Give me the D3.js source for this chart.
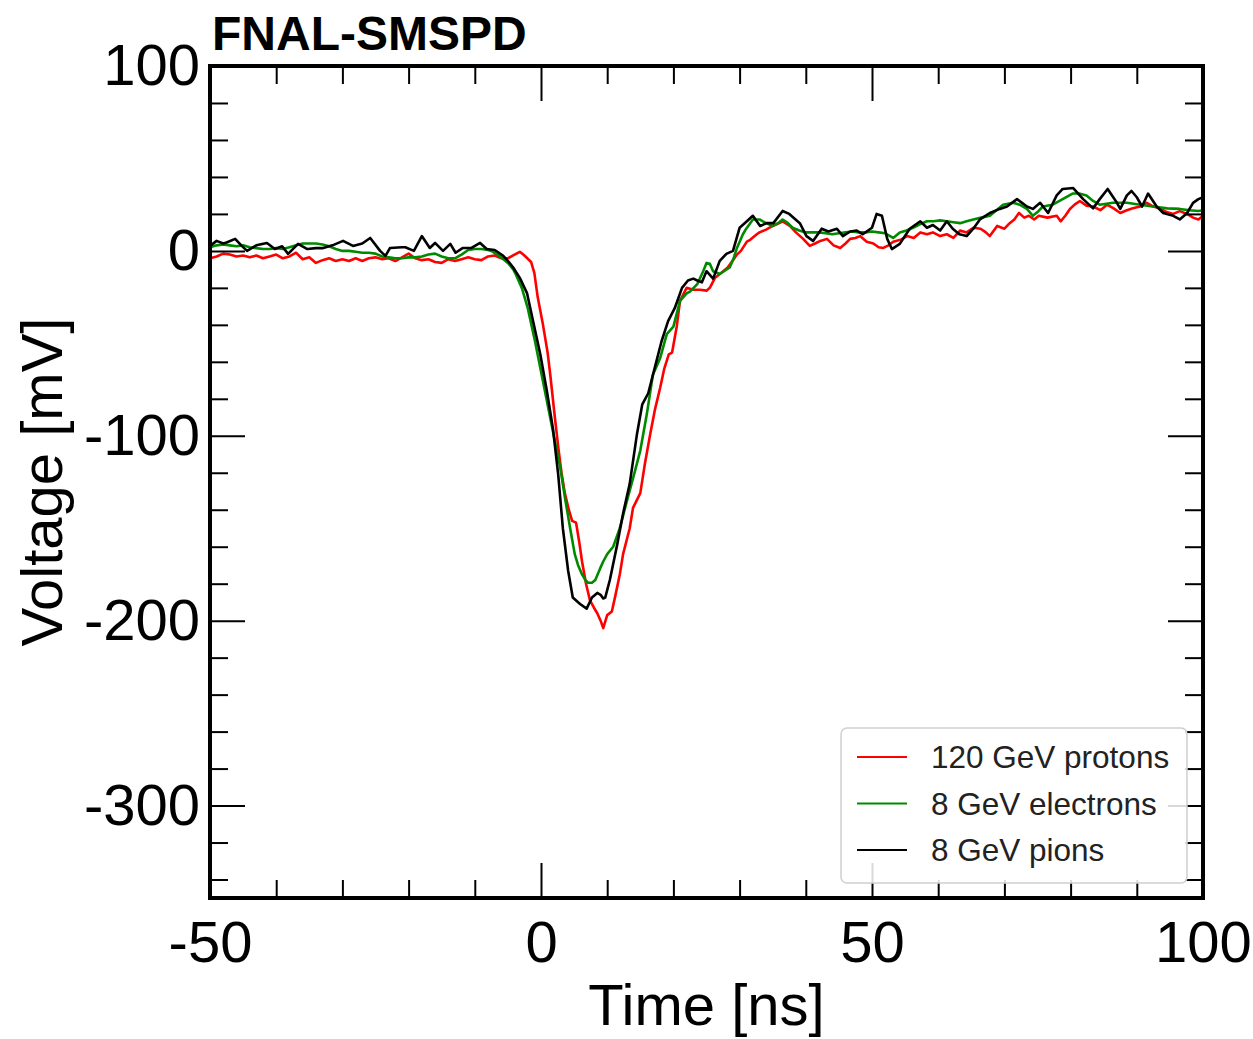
<!DOCTYPE html>
<html>
<head>
<meta charset="utf-8">
<script src="https://cdn.jsdelivr.net/npm/d3@7"></script>
<style>
  body { margin: 0; background: #fff; }
  text { font-family: "Liberation Sans", Arial, sans-serif; }
</style>
</head>
<body>
<div id="chart"></div>
<script>
// axis ticks
const xMajor = [-50, 0, 50, 100];
const yMajor = [100, 0, -100, -200, -300];
const xMinor = [-40, -30, -20, -10, 10, 20, 30, 40, 60, 70, 80, 90];
const yMinor = [80, 60, 40, 20, -20, -40, -60, -80, -120, -140, -160, -180, -220, -240, -260, -280, -320, -340];

const seriesNames = ["120 GeV protons", "8 GeV electrons", "8 GeV pions"];
const seriesColors = ["#ff0000", "#008a00", "#000000"];

// 120 GeV protons (time ns, voltage mV)
const protonsT = [-50,-49,-48,-47,-46,-45,-44,-43,-42,-41,-40,-39,-38,-37,-36,-35,-34,-33,-32,-31,-30,-29,-28,-27,-26,-25,-24,-23,-22,-21,-20,-19,-18,-17,-16,-15,-14,-13,-12,-11,-10,-9,-8,-7,-6,-5,-4,-3.2,-2.5,-1.5,-1,-0.5,0.3,1,1.4,2,2.6,3.1,3.6,4.2,4.7,5.3,5.8,6.2,6.8,7.4,8,8.5,9,9.4,10,10.7,11.2,11.9,12.4,13.4,13.9,15,15.7,16.5,17.2,18,18.6,19.3,19.8,20.5,21,22,23,24,25,25.5,26.3,27.2,28.2,29,29.6,30.2,31.1,31.6,32.6,33,34,35,36,36.5,37.6,38.5,39.6,40.6,41.4,42.2,43.2,44.2,45.2,46,46.7,47.5,48.2,49.2,50.2,51,51.7,52.5,53.2,54.3,55.3,56.3,57.3,58.3,59.2,60.3,61.3,62.3,63.3,64.3,65.3,66.4,67.2,67.8,68.9,70,70.8,71.5,72.2,73,73.7,74.5,75.2,76.5,77.9,78.5,79.2,79.9,80.6,81.4,82.4,83.4,84.5,85.5,86.5,87.5,88.5,89.4,90.5,91.5,92.5,93.5,94.5,95.5,96.5,97.6,98.5,99.3,100];
const protonsV = [-4,-3,-1.5,-2,-3,-2.5,-3.5,-2.5,-4,-3,-2,-4,-3,-1,-4.5,-3.5,-6.5,-5,-4,-5.5,-4.5,-5.5,-4,-5.5,-4,-3.5,-4.5,-4,-5.5,-3.5,-1.5,-4,-5,-4.5,-6,-6.5,-4.5,-5.5,-4.5,-3.5,-4.5,-5,-3,-2.5,-4,-4,-2,-0.5,-2.5,-6,-12,-25,-40,-55,-67,-87,-106,-120,-131,-140,-146,-147,-158,-168,-180,-189,-193,-196,-200,-204,-197,-195,-187,-175,-164,-150,-139,-131,-115,-99,-86,-74,-64,-56,-55,-41,-27,-20,-21,-21,-21.5,-20,-14.5,-12,-9,-5,-2,0,5,6,9,10,11.5,13.5,15,16,13.5,10,6.5,2.7,4,5.4,6.5,3,1.6,4,6.5,7,8,5,4,2,1.6,3,5,6,8,7,10,9,10,8,9,7,11,10,12.5,12,10,8,13.5,12,15,17,20.5,18,19,17,19,18,19,16,19,22.7,25,27,24.5,24,22,25,23,20.5,22,23,24,26,24,23,21,20,21.5,20,18,17,19];

// 8 GeV electrons
const electronsT = [-50,-49,-48,-47,-46,-45,-44,-43,-42,-41,-40,-39,-38,-37,-36,-35,-34,-33,-32,-31,-30,-29,-28,-27,-26,-25,-24,-23,-22,-21,-20,-19,-18,-17,-16,-15,-14,-13,-12,-11,-10,-9,-8,-7.5,-6.2,-5,-4.2,-3.9,-2.9,-2,-0.9,0.1,1.1,2.1,2.9,3.6,4.4,5.1,5.6,6.2,6.7,7.1,7.7,8.2,8.9,9.4,10,10.9,11.5,11.9,13,13.9,15,16,16.9,18,19,20,21,22,22.5,23.6,24.5,25,25.5,26,27,28.5,29.1,29.6,30.5,31,31.6,32,33,34,35,35.8,36.5,37.3,38,39,40,41,42,43,44,45,46,47,48,49,50,51,52,53.2,54.2,55.2,56.2,57.3,58.3,59.3,60.3,61.3,62.3,63.3,64.3,65.3,66.5,67.8,68.8,69.8,71.3,72.3,73.4,74.3,75,75.8,77.3,78.8,80.3,81.3,82.4,83.4,84.4,85.4,86.4,88.5,90.5,92.4,94.6,96.5,98,99.3,100];
const electronsV = [2,3,3.5,3,2.5,3,2,1.5,1,1,1.5,1,2,3,4,4,4,3.5,2.5,1,0,0,-0.5,-1,-1,-1.5,-3,-3.5,-4,-4,-3.5,-3.5,-3,-2,-1.5,-3,-4,-4,-2,0.5,1,1,0.5,0,-3,-6.5,-10,-12,-20,-31,-49,-67,-85,-103,-117,-133,-150,-164,-170,-175,-178,-179.5,-179.5,-178,-172,-168,-164,-160,-154,-150,-135,-123,-108,-88,-67,-58,-45,-41,-27,-23,-22,-18,-11,-6.5,-7,-11,-12.5,-9,-4,1.6,9,12,15,17,17,15,13.5,15,17,15,12.5,11,10,10,10,9.5,9,9.5,10,10.5,10,10,10.5,10,9.5,7,10,11,12.5,14.5,16,16,16.5,16,15.5,15,16,17,18,19,22,25,26,25,22.7,19,21,24,25,28,31,31,30,27,25,25.5,26,26,25,24,23,22.7,22,21.6,22];

// 8 GeV pions
const pionsT = [-50,-49,-48,-47.5,-46.2,-45.2,-44.4,-43,-41.4,-40.2,-39.1,-38.2,-36.7,-35.3,-34,-32.9,-31.5,-29.9,-28.4,-27,-25.8,-24.3,-23.5,-22.8,-21,-20.5,-19.2,-18,-16.8,-16,-14.8,-13.7,-12.9,-11.8,-10.5,-9.2,-8.2,-7,-5.7,-5,-4.2,-3.2,-2.1,-1.2,-0.1,0.9,1.8,2.6,3.3,4.1,4.8,5.9,6.9,7.7,8.5,9,9.4,9.7,10.4,11.5,12.4,13.4,14.5,15.3,16.2,17.2,18.2,19.2,20.2,21.3,22.2,23,23.6,24.3,25,26,27,28,29,30,31.1,32,33.1,34.1,35.1,36.5,37.5,39.1,40.1,41.1,42.4,43.4,44.7,45.6,46.7,47.7,48.6,50,50.7,51.5,52.3,53,54.2,55.7,57.3,58.3,59.2,60.3,61.3,62.2,63.2,64.3,65.3,66.3,67.8,69.3,70.4,71.9,73.4,74.3,75.4,76.6,77.9,78.8,80.4,81.9,83.4,84.4,85.6,87,87.5,88.5,89.2,90,90.8,91.7,93,94,95.5,96.5,97.6,98.5,99.3,100];
const pionsV = [2.7,5.4,4,4.5,6.5,2.7,0,3,4.3,1,2.5,-1.6,3.8,1,1.5,1.5,3,5.4,2.7,4,7,0,-2.7,1.6,2,2,0,8,1.6,4.3,0,3.8,-1,1.6,1.6,4.3,1,0.5,-2.7,-5.4,-9,-14.6,-23,-38,-56,-76,-96,-121,-150,-173,-187.5,-191,-193.5,-187.5,-185,-186,-188,-187.5,-178,-159,-142,-126,-99,-83,-77,-63,-49,-38,-31,-20,-16,-15,-16,-17,-11,-15,-5.4,-1.6,0,12.5,16,19,13.5,15,15,21.6,20,15,8,5.4,12,10.5,12,8,10.5,11,9,12.5,20,19,6.5,1,3.8,12,16,12.5,14,11,16,12,9,8,12,17,20.5,22.7,24,28,24,22.7,26,20.5,30,33.5,34,28,23,28,33.5,26,22.7,30,32.4,29,24,31,24,20.5,19,17,20.5,26,28,29];

const seriesT = [protonsT, electronsT, pionsT];
const seriesV = [protonsV, electronsV, pionsV];

const W = 1253, H = 1039;
const margin = {top: 66, right: 50, bottom: 141, left: 210},
      width = W - margin.left - margin.right,
      height = H - margin.top - margin.bottom;

const x = d3.scaleLinear().domain([-50, 100]).range([0, width]);
const y = d3.scaleLinear().domain([-350, 100]).range([height, 0]);

// plain hyphen for negative tick labels
const fmt = function(d){ return String(d); };

const svg = d3.select("#chart").append("svg")
    .attr("width", W)
    .attr("height", H)
  .append("g")
    .attr("transform", "translate(" + margin.left + "," + margin.top + ")");

svg.append("clipPath").attr("id", "clip")
  .append("rect").attr("width", width).attr("height", height);

// curves
const line = d3.line()
    .x(function(d){ return x(d[0]); })
    .y(function(d){ return y(d[1]); });

seriesT.forEach(function(ts, i){
    const pts = ts.map(function(t, j){ return [t, seriesV[i][j]]; });
    svg.append("path")
      .datum(pts)
      .attr("clip-path", "url(#clip)")
      .attr("fill", "none")
      .attr("stroke", seriesColors[i])
      .attr("stroke-width", 2.6)
      .attr("stroke-linejoin", "round")
      .attr("d", line);
});

// ticks, all pointing inward
function styleAxis(g){
    g.select(".domain").remove();
    g.selectAll(".tick line").attr("stroke", "#000").attr("stroke-width", 2);
    g.selectAll("text").attr("font-size", 58).attr("fill", "#000")
      .attr("font-family", "'Liberation Sans', Arial, sans-serif");
}

svg.append("g").attr("transform", "translate(0," + height + ")")
  .call(d3.axisBottom(x).tickValues(xMajor).tickSize(-35).tickPadding(23).tickFormat(fmt))
  .call(styleAxis);
svg.append("g").attr("transform", "translate(0," + height + ")")
  .call(d3.axisBottom(x).tickValues(xMinor).tickSize(-18).tickFormat(""))
  .call(styleAxis);
svg.append("g")
  .call(d3.axisTop(x).tickValues(xMajor).tickSize(-35).tickFormat(""))
  .call(styleAxis);
svg.append("g")
  .call(d3.axisTop(x).tickValues(xMinor).tickSize(-18).tickFormat(""))
  .call(styleAxis);

svg.append("g")
  .call(d3.axisLeft(y).tickValues(yMajor).tickSize(-35).tickPadding(10).tickFormat(fmt))
  .call(styleAxis);
svg.append("g")
  .call(d3.axisLeft(y).tickValues(yMinor).tickSize(-18).tickFormat(""))
  .call(styleAxis);
svg.append("g").attr("transform", "translate(" + width + ",0)")
  .call(d3.axisRight(y).tickValues(yMajor).tickSize(-35).tickFormat(""))
  .call(styleAxis);
svg.append("g").attr("transform", "translate(" + width + ",0)")
  .call(d3.axisRight(y).tickValues(yMinor).tickSize(-18).tickFormat(""))
  .call(styleAxis);

// frame
svg.append("rect")
  .attr("width", width).attr("height", height)
  .attr("fill", "none").attr("stroke", "#000").attr("stroke-width", 4);

// axis titles
svg.append("text")
  .attr("x", width / 2).attr("y", height + 127)
  .attr("text-anchor", "middle").attr("font-size", 58)
  .text("Time [ns]");

svg.append("text")
  .attr("transform", "translate(" + (62 - margin.left) + "," + (height / 2) + ") rotate(-90)")
  .attr("text-anchor", "middle").attr("font-size", 58)
  .text("Voltage [mV]");

svg.append("text")
  .attr("x", 2).attr("y", -16)
  .attr("font-size", 48).attr("font-weight", "bold")
  .text("FNAL-SMSPD");

// legend
const leg = svg.append("g").attr("transform", "translate(" + (841 - margin.left) + "," + (728 - margin.top) + ")");
leg.append("rect")
  .attr("width", 346).attr("height", 155).attr("rx", 6)
  .attr("fill", "#fff").attr("fill-opacity", 0.85)
  .attr("stroke", "#d0d0d0").attr("stroke-width", 1.5);

seriesNames.forEach(function(name, i){
    const row = leg.append("g").attr("transform", "translate(0," + (29 + i * 46.5) + ")");
    row.append("line")
      .attr("x1", 16).attr("x2", 66)
      .attr("stroke", seriesColors[i]).attr("stroke-width", 2);
    row.append("text")
      .attr("x", 90).attr("dy", "0.35em")
      .attr("font-size", 31.5).attr("fill", "#222")
      .text(name);
});
</script>
</body>
</html>
